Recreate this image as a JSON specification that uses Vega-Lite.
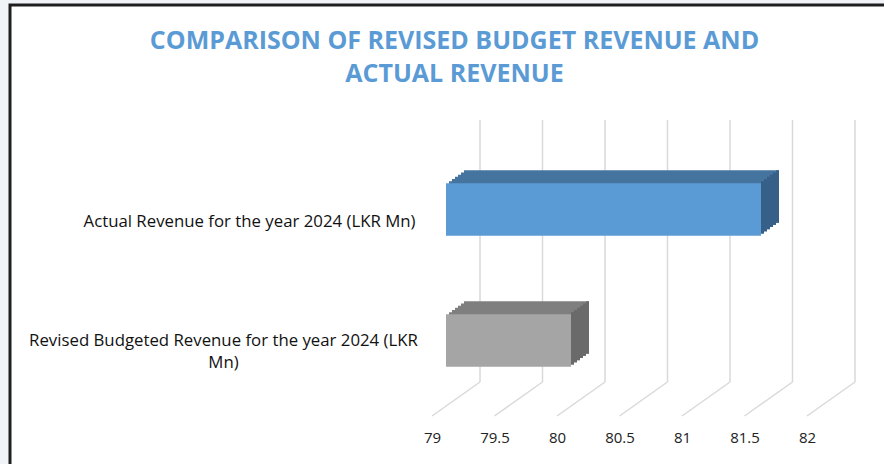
{
  "$schema": "https://vega.github.io/schema/vega-lite/v6.json",
  "autosize": {"type": "none"},
  "width": 877,
  "height": 462,
  "padding": {"left": 10, "top": 5, "right": -3, "bottom": -3},
  "background": "#F0F4F9",
  "config": {"view": {"stroke": "#1f1f1f", "strokeWidth": 3, "fill": "white"}, "font": "Open Sans"},
  "title": {
    "text": ["COMPARISON OF REVISED BUDGET REVENUE AND", "ACTUAL REVENUE"],
    "font": "Open Sans",
    "fontSize": 25,
    "fontWeight": "bold",
    "color": "#5B9BD5",
    "anchor": "middle",
    "frame": "group",
    "dx": 6,
    "dy": 92,
    "lineHeight": 33,
    "offset": 10
  },
  "datasets": {
    "bars": [
      {"category": "Actual Revenue for the year 2024 (LKR Mn)", "revenue": 81.52},
      {"category": "Revised Budgeted Revenue for the year 2024 (LKR Mn)", "revenue": 80.0}
    ],
    "grid": [
      {"tick": 79}, {"tick": 79.5}, {"tick": 80}, {"tick": 80.5},
      {"tick": 81}, {"tick": 81.5}, {"tick": 82}
    ]
  },
  "layer": [
    {
      "data": {"name": "grid"},
      "mark": {"type": "rule", "color": "#d9d9d9", "strokeWidth": 1.5, "xOffset": 34, "yOffset": -24, "y2Offset": -24},
      "encoding": {
        "x": {"field": "tick", "type": "quantitative", "scale": {"domain": [79, 82], "zero": false, "nice": false, "range": [436, 811]},
          "axis": {"values": [79, 79.5, 80, 80.5, 81, 81.5, 82], "title": null, "domain": false, "ticks": false, "tickSize": 0, "grid": false,
            "offset": -61, "labelExpr": "'' + datum.value", "labelFlush": false, "labelOverlap": false,
            "labelOffset": -14, "labelPadding": 24, "labelFont": "Open Sans", "labelFontSize": 15, "labelColor": "#222222"}},
        "y": {"value": {"expr": "range('y')[0]"}},
        "y2": {"value": {"expr": "range('y')[1]"}}
      }
    },
    {
      "data": {"name": "grid"},
      "mark": {"type": "rule", "color": "#d9d9d9", "strokeWidth": 1.5, "xOffset": 34, "x2Offset": -14, "yOffset": -24, "y2Offset": 10},
      "encoding": {
        "x": {"field": "tick", "type": "quantitative"},
        "x2": {"field": "tick"},
        "y": {"value": {"expr": "range('y')[1]"}},
        "y2": {"value": {"expr": "range('y')[1]"}}
      }
    },
    {
      "data": {"name": "bars"},
      "mark": {"type": "bar", "xOffset": 18, "x2Offset": 18, "yOffset": -13, "y2Offset": -13},
      "encoding": {
        "y": {"field": "category", "type": "nominal", "sort": null,
          "scale": {"paddingInner": 0.6, "paddingOuter": 0.3, "range": [139, 401]},
          "axis": {"title": null, "domain": false, "ticks": false, "tickSize": 0, "offset": -436,
            "labelFont": "Open Sans", "labelFontSize": 16.8, "labelColor": "#111111", "labelLimit": 500, "labelLineHeight": 22,
            "labelExpr": "datum.value == 'Revised Budgeted Revenue for the year 2024 (LKR Mn)' ? ['Revised Budgeted Revenue for the year 2024 (LKR', 'Mn)'] : datum.label",
            "labelAlign": {"condition": {"test": "datum.value == 'Revised Budgeted Revenue for the year 2024 (LKR Mn)'", "value": "center"}, "value": "right"},
            "labelOffset": {"condition": {"test": "datum.value == 'Revised Budgeted Revenue for the year 2024 (LKR Mn)'", "value": 0}, "value": 12},
            "labelPadding": {"condition": {"test": "datum.value == 'Revised Budgeted Revenue for the year 2024 (LKR Mn)'", "value": 223}, "value": 31}}},
        "x": {"field": "revenue", "type": "quantitative"},
        "x2": {"datum": 79},
        "color": {"condition": {"test": "datum.category == 'Actual Revenue for the year 2024 (LKR Mn)'", "value": "#45749F"}, "value": "#7F7F7F"}
      }
    },
    {
      "data": {"name": "bars"},
      "mark": {"type": "bar", "xOffset": 15, "x2Offset": 18, "yOffset": -13, "y2Offset": -13},
      "encoding": {
        "y": {"field": "category", "type": "nominal", "sort": null},
        "x": {"field": "revenue", "type": "quantitative"},
        "x2": {"field": "revenue"},
        "color": {"condition": {"test": "datum.category == 'Actual Revenue for the year 2024 (LKR Mn)'", "value": "#376089"}, "value": "#6A6A6A"}
      }
    },
    {
      "data": {"name": "bars"},
      "mark": {"type": "bar", "xOffset": 15, "x2Offset": 15, "yOffset": -10.83, "y2Offset": -10.83},
      "encoding": {
        "y": {"field": "category", "type": "nominal", "sort": null},
        "x": {"field": "revenue", "type": "quantitative"},
        "x2": {"datum": 79},
        "color": {"condition": {"test": "datum.category == 'Actual Revenue for the year 2024 (LKR Mn)'", "value": "#45749F"}, "value": "#7F7F7F"}
      }
    },
    {
      "data": {"name": "bars"},
      "mark": {"type": "bar", "xOffset": 12, "x2Offset": 15, "yOffset": -10.83, "y2Offset": -10.83},
      "encoding": {
        "y": {"field": "category", "type": "nominal", "sort": null},
        "x": {"field": "revenue", "type": "quantitative"},
        "x2": {"field": "revenue"},
        "color": {"condition": {"test": "datum.category == 'Actual Revenue for the year 2024 (LKR Mn)'", "value": "#376089"}, "value": "#6A6A6A"}
      }
    },
    {
      "data": {"name": "bars"},
      "mark": {"type": "bar", "xOffset": 12, "x2Offset": 12, "yOffset": -8.67, "y2Offset": -8.67},
      "encoding": {
        "y": {"field": "category", "type": "nominal", "sort": null},
        "x": {"field": "revenue", "type": "quantitative"},
        "x2": {"datum": 79},
        "color": {"condition": {"test": "datum.category == 'Actual Revenue for the year 2024 (LKR Mn)'", "value": "#45749F"}, "value": "#7F7F7F"}
      }
    },
    {
      "data": {"name": "bars"},
      "mark": {"type": "bar", "xOffset": 9, "x2Offset": 12, "yOffset": -8.67, "y2Offset": -8.67},
      "encoding": {
        "y": {"field": "category", "type": "nominal", "sort": null},
        "x": {"field": "revenue", "type": "quantitative"},
        "x2": {"field": "revenue"},
        "color": {"condition": {"test": "datum.category == 'Actual Revenue for the year 2024 (LKR Mn)'", "value": "#376089"}, "value": "#6A6A6A"}
      }
    },
    {
      "data": {"name": "bars"},
      "mark": {"type": "bar", "xOffset": 9, "x2Offset": 9, "yOffset": -6.5, "y2Offset": -6.5},
      "encoding": {
        "y": {"field": "category", "type": "nominal", "sort": null},
        "x": {"field": "revenue", "type": "quantitative"},
        "x2": {"datum": 79},
        "color": {"condition": {"test": "datum.category == 'Actual Revenue for the year 2024 (LKR Mn)'", "value": "#45749F"}, "value": "#7F7F7F"}
      }
    },
    {
      "data": {"name": "bars"},
      "mark": {"type": "bar", "xOffset": 6, "x2Offset": 9, "yOffset": -6.5, "y2Offset": -6.5},
      "encoding": {
        "y": {"field": "category", "type": "nominal", "sort": null},
        "x": {"field": "revenue", "type": "quantitative"},
        "x2": {"field": "revenue"},
        "color": {"condition": {"test": "datum.category == 'Actual Revenue for the year 2024 (LKR Mn)'", "value": "#376089"}, "value": "#6A6A6A"}
      }
    },
    {
      "data": {"name": "bars"},
      "mark": {"type": "bar", "xOffset": 6, "x2Offset": 6, "yOffset": -4.33, "y2Offset": -4.33},
      "encoding": {
        "y": {"field": "category", "type": "nominal", "sort": null},
        "x": {"field": "revenue", "type": "quantitative"},
        "x2": {"datum": 79},
        "color": {"condition": {"test": "datum.category == 'Actual Revenue for the year 2024 (LKR Mn)'", "value": "#45749F"}, "value": "#7F7F7F"}
      }
    },
    {
      "data": {"name": "bars"},
      "mark": {"type": "bar", "xOffset": 3, "x2Offset": 6, "yOffset": -4.33, "y2Offset": -4.33},
      "encoding": {
        "y": {"field": "category", "type": "nominal", "sort": null},
        "x": {"field": "revenue", "type": "quantitative"},
        "x2": {"field": "revenue"},
        "color": {"condition": {"test": "datum.category == 'Actual Revenue for the year 2024 (LKR Mn)'", "value": "#376089"}, "value": "#6A6A6A"}
      }
    },
    {
      "data": {"name": "bars"},
      "mark": {"type": "bar", "xOffset": 3, "x2Offset": 3, "yOffset": -2.17, "y2Offset": -2.17},
      "encoding": {
        "y": {"field": "category", "type": "nominal", "sort": null},
        "x": {"field": "revenue", "type": "quantitative"},
        "x2": {"datum": 79},
        "color": {"condition": {"test": "datum.category == 'Actual Revenue for the year 2024 (LKR Mn)'", "value": "#45749F"}, "value": "#7F7F7F"}
      }
    },
    {
      "data": {"name": "bars"},
      "mark": {"type": "bar", "xOffset": 0, "x2Offset": 3, "yOffset": -2.17, "y2Offset": -2.17},
      "encoding": {
        "y": {"field": "category", "type": "nominal", "sort": null},
        "x": {"field": "revenue", "type": "quantitative"},
        "x2": {"field": "revenue"},
        "color": {"condition": {"test": "datum.category == 'Actual Revenue for the year 2024 (LKR Mn)'", "value": "#376089"}, "value": "#6A6A6A"}
      }
    },
    {
      "data": {"name": "bars"},
      "mark": {"type": "bar"},
      "encoding": {
        "y": {"field": "category", "type": "nominal", "sort": null},
        "x": {"field": "revenue", "type": "quantitative"},
        "x2": {"datum": 79},
        "color": {"condition": {"test": "datum.category == 'Actual Revenue for the year 2024 (LKR Mn)'", "value": "#5B9BD5"}, "value": "#A5A5A5"}
      }
    }
  ]
}
